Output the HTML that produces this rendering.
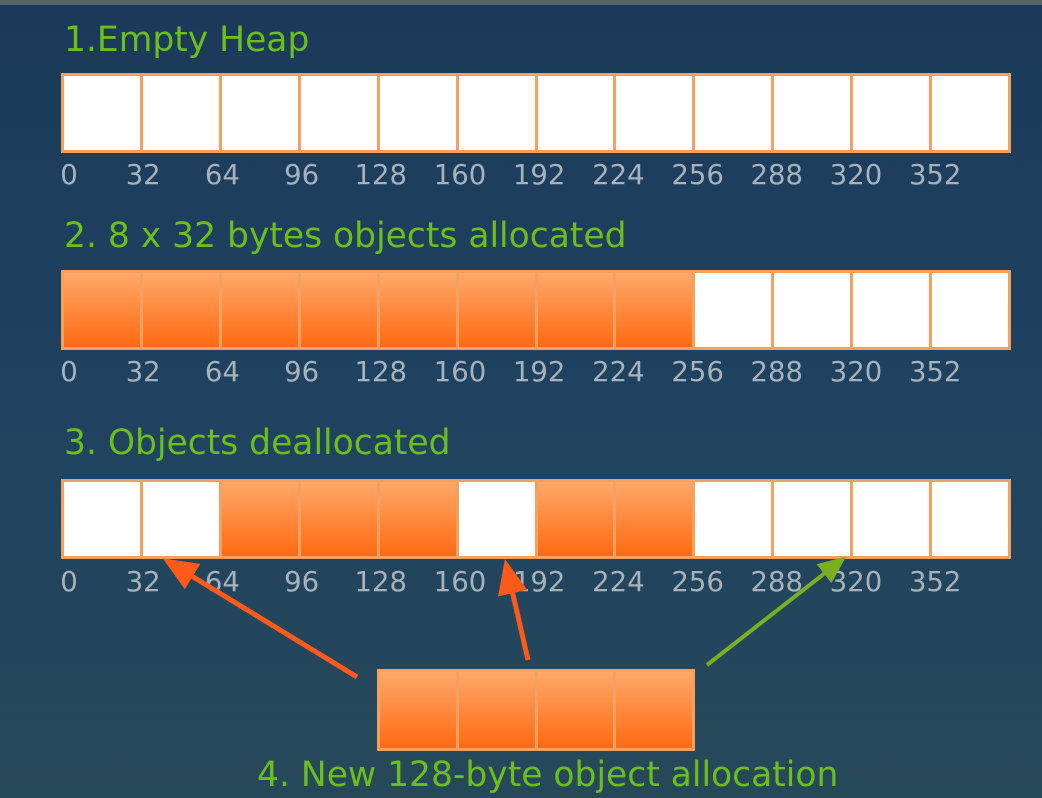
<!DOCTYPE html>
<html><head><style>
body{margin:0;width:1042px;height:798px;overflow:hidden;background:linear-gradient(#1b3a5a 0%,#1f4260 50%,#26495a 100%);font-family:"DejaVu Sans","Liberation Sans",sans-serif;position:relative}
.top{position:absolute;left:0;top:0;width:1042px;height:5px;background:#55656a}
.t{position:absolute;color:#6cbf1a;font-size:34.5px;white-space:nowrap}
.bar{position:absolute;left:61px;width:950px;height:80px;display:flex;border:3px solid #f4a060;box-sizing:border-box;background:#f4a060;gap:3px}
.c{flex:1;background:#fff}
.o{background:linear-gradient(#ffa868,#ff6a12)}
.n{position:absolute;color:#a8b2ba;font-size:27.5px;transform:translateX(-50%)}
</style></head><body>
<div class="top"></div>
<div class="t" style="left:64px;top:20px">1.Empty Heap</div>
<div class="bar" style="top:73px"><div class="c"></div><div class="c"></div><div class="c"></div><div class="c"></div><div class="c"></div><div class="c"></div><div class="c"></div><div class="c"></div><div class="c"></div><div class="c"></div><div class="c"></div><div class="c"></div></div>
<div class="t" style="left:64px;top:216px">2. 8 x 32 bytes objects allocated</div>
<div class="bar" style="top:270px"><div class="c o"></div><div class="c o"></div><div class="c o"></div><div class="c o"></div><div class="c o"></div><div class="c o"></div><div class="c o"></div><div class="c o"></div><div class="c"></div><div class="c"></div><div class="c"></div><div class="c"></div></div>
<div class="t" style="left:64px;top:423px">3. Objects deallocated</div>
<div class="bar" style="top:479px"><div class="c"></div><div class="c"></div><div class="c o"></div><div class="c o"></div><div class="c o"></div><div class="c"></div><div class="c o"></div><div class="c o"></div><div class="c"></div><div class="c"></div><div class="c"></div><div class="c"></div></div>
<div id="nums"></div>
<div class="bar" style="top:669px;left:377px;width:318px;height:82px"><div class="c o"></div><div class="c o"></div><div class="c o"></div><div class="c o"></div></div>
<div class="t" style="left:257px;top:755px">4. New 128-byte object allocation</div>
<svg width="1042" height="798" style="position:absolute;left:0;top:0">
<defs>
<marker id="r" markerWidth="7" markerHeight="6" refX="6" refY="3" orient="auto" markerUnits="strokeWidth"><path d="M0,0 L7,3 L0,6z" fill="#ff5a1a"/></marker>
<marker id="g" markerWidth="7" markerHeight="6" refX="6" refY="3" orient="auto" markerUnits="strokeWidth"><path d="M0,0 L7,3 L0,6z" fill="#7ab020"/></marker>
</defs>
<line x1="357" y1="677" x2="167" y2="561" stroke="#ff5a1a" stroke-width="5" marker-end="url(#r)"/>
<line x1="528" y1="660" x2="506" y2="564" stroke="#ff5a1a" stroke-width="5" marker-end="url(#r)"/>
<line x1="707" y1="665" x2="843" y2="559" stroke="#7ab020" stroke-width="4" marker-end="url(#g)"/>
</svg>
<script>
var v=[0,32,64,96,128,160,192,224,256,288,320,352],ys=[159,356,566],h='';
ys.forEach(function(y){v.forEach(function(n,i){h+='<div class="n" style="left:'+(i==0?69:61+i*79.2+3)+'px;top:'+y+'px">'+n+'</div>';});});
document.getElementById('nums').innerHTML=h;
</script>
</body></html>
